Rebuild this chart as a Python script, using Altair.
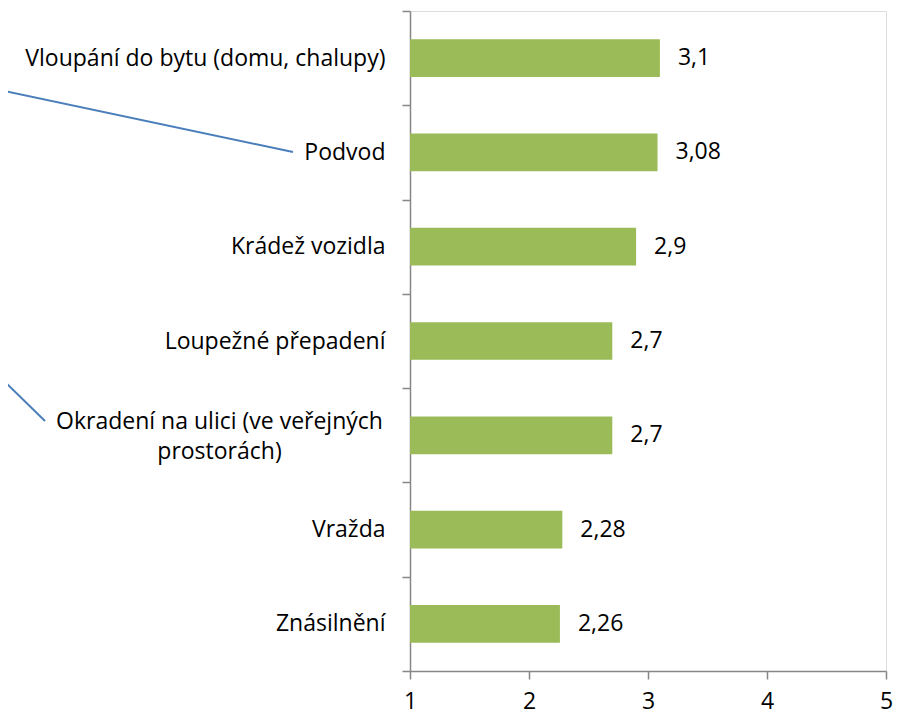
import altair as alt
import pandas as pd

categories = [
    "Vloupání do bytu (domu, chalupy)",
    "Podvod",
    "Krádež vozidla",
    "Loupežné přepadení",
    "Okradení na ulici (ve veřejných prostorách)",
    "Vražda",
    "Znásilnění",
]
values = [3.1, 3.08, 2.9, 2.7, 2.7, 2.28, 2.26]
x_ticks = [1, 2, 3, 4, 5]

df = pd.DataFrame({"cat": categories, "value": values})

FONT = "Open Sans"
FS = 23
GRAY = "#868686"
GREEN = "#9BBB59"
BLUE = "#4A7EBB"

two_line = "Okradení na ulici (ve veřejných prostorách)"
test = f"datum.value == '{two_line}'"

y_enc = alt.Y(
    "cat:N",
    sort=categories,
    title=None,
    scale=alt.Scale(paddingInner=0, paddingOuter=0),
    axis=alt.Axis(
        tickBand="extent",
        tickSize=8,
        tickColor=GRAY,
        tickWidth=1.5,
        domainColor=GRAY,
        domainWidth=1.5,
        labelFont=FONT,
        labelFontSize=FS,
        labelColor="#000000",
        labelLimit=500,
        labelPadding=alt.condition(test, alt.value(183), alt.value(17)),
        labelAlign=alt.condition(test, alt.value("center"), alt.value("right")),
        labelOffset=alt.condition(test, alt.value(-14), alt.value(0)),
        labelExpr=f"{test} ? ['Okradení na ulici (ve veřejných', 'prostorách)'] : datum.value",
        labelLineHeight=30,
    ),
)

x_enc = alt.X(
    "value:Q",
    title=None,
    scale=alt.Scale(domain=[1, 5], zero=False, nice=False),
    axis=alt.Axis(
        values=x_ticks,
        format="d",
        grid=False,
        tickSize=8,
        tickColor=GRAY,
        tickWidth=1.5,
        domainColor=GRAY,
        domainWidth=1.5,
        labelFont=FONT,
        labelFontSize=FS,
        labelColor="#000000",
        labelPadding=11,
        labelFlush=False,
    ),
)

bars = alt.Chart(df).mark_bar(color=GREEN, height={"band": 0.4}).encode(
    y=y_enc,
    x=x_enc,
    x2=alt.datum(1),
)

text = alt.Chart(df).transform_calculate(
    lab="replace(toString(datum.value), '.', ',')"
).mark_text(align="left", baseline="middle", dx=18, font=FONT, fontSize=FS, color="#000000").encode(
    y=alt.Y("cat:N", sort=categories),
    x="value:Q",
    text="lab:N",
)

line1 = alt.Chart(df.head(1)).mark_rule(color=BLUE, strokeWidth=2).encode(
    x=alt.value(-410), x2=alt.value(-117), y=alt.value(79), y2=alt.value(141)
)
line2 = alt.Chart(df.head(1)).mark_rule(color=BLUE, strokeWidth=2).encode(
    x=alt.value(-410), x2=alt.value(-365), y=alt.value(366), y2=alt.value(410)
)

chart = alt.layer(bars, text, line1, line2).properties(
    width=476,
    height=660,
    autosize=alt.AutoSizeParams(type="none"),
    padding={"left": 402, "top": 3, "right": 12, "bottom": 39},
).configure_view(stroke=None).configure(background="white")

chart.save("out.html", embed_options={"renderer": "svg", "actions": False})
